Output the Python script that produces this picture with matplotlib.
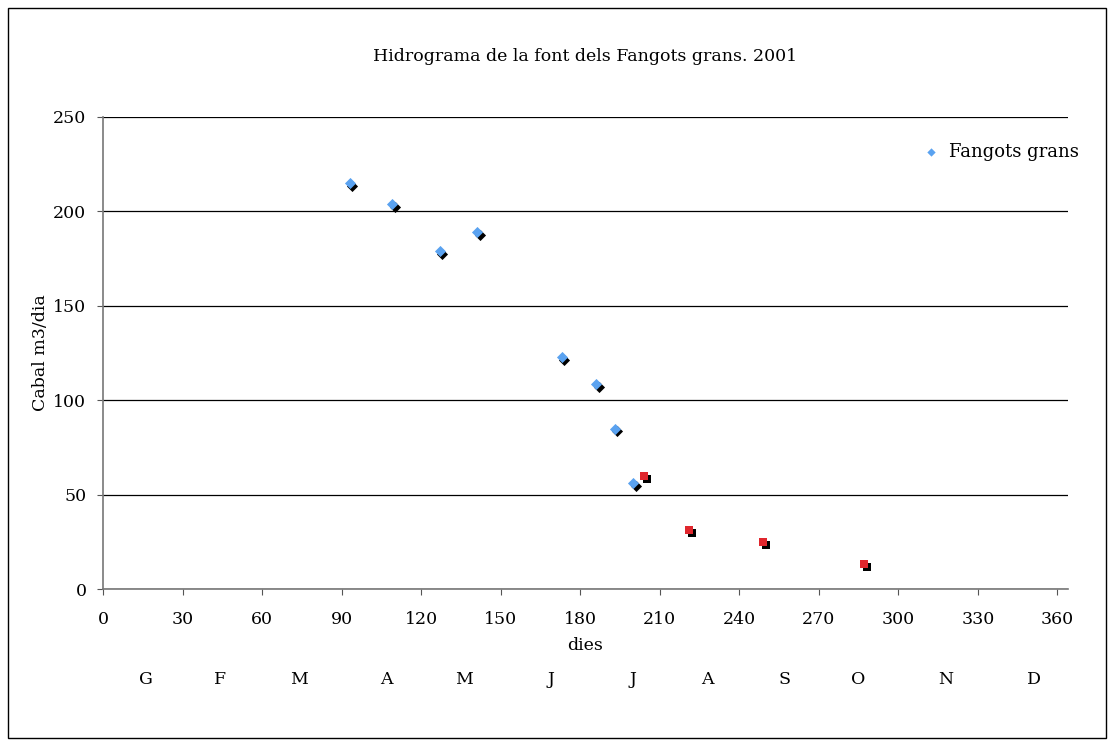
import matplotlib
matplotlib.use("Agg")
import matplotlib.pyplot as plt
import matplotlib.transforms as mtransforms
from matplotlib.patches import Rectangle

# dies de l'any i cabal (m3/dia)
dies_blau = [93, 109, 127, 141, 173, 186, 193, 200]
cabal_blau = [215, 204, 179, 189, 123, 108.5, 85, 56]
dies_vermell = [204, 221, 249, 287]
cabal_vermell = [60, 31, 25, 13]
mesos = ["G", "F", "M", "A", "M", "J", "J", "A", "S", "O", "N", "D"]
mig_mes = [16, 44, 74, 107, 136, 169, 200, 228, 257, 285, 318, 351]
xticks = list(range(0, 361, 30))
yticks = list(range(0, 251, 50))

plt.rcParams["font.family"] = "DejaVu Serif"

fig = plt.figure(figsize=(11.14, 7.47), dpi=100)
ax = fig.add_axes([0.0925, 0.2115, 0.8662, 0.6319])

# ombra negra dels marcadors
shadow = mtransforms.offset_copy(ax.transData, fig=fig, x=2.0, y=-2.0, units="points")
ax.scatter(dies_blau, cabal_blau, marker="D", s=32, color="black", transform=shadow, zorder=3, linewidths=0)
ax.scatter(dies_vermell, cabal_vermell, marker="s", s=34, color="black", transform=shadow, zorder=3, linewidths=0)

ax.scatter(dies_blau, cabal_blau, marker="D", s=32, color="#5aa2f0", zorder=4, linewidths=0,
           label="Fangots grans")
ax.scatter(dies_vermell, cabal_vermell, marker="s", s=34, color="#e0262d", zorder=4, linewidths=0)

ax.set_xlim(0, 364)
ax.set_ylim(0, 250)
ax.set_xticks(xticks)
ax.set_yticks(yticks)
ax.tick_params(labelsize=12.5, length=4, color="#555555")
ax.tick_params(axis="x", pad=12)
ax.tick_params(axis="y", pad=8)
ax.yaxis.grid(True, color="black", linewidth=0.9)
ax.set_axisbelow(True)
for s in ["top", "right"]:
    ax.spines[s].set_visible(False)
for s in ["left", "bottom"]:
    ax.spines[s].set_color("#777777")
    ax.spines[s].set_linewidth(1.2)

ax.set_xlabel("dies", fontsize=12.5, labelpad=6)
ax.set_ylabel("Cabal m3/dia", fontsize=12.5, labelpad=3)
ax.set_title("Hidrograma de la font dels Fangots grans. 2001", fontsize=12.5, pad=40)

trans = mtransforms.blended_transform_factory(ax.transData, fig.transFigure)
for m, d in zip(mesos, mig_mes):
    ax.text(d, 1 - 680 / 747, m, transform=trans, ha="center", va="center", fontsize=12.5)

leg = ax.legend(loc="upper left", bbox_to_anchor=(0.822, 0.98), frameon=False, fontsize=13,
                handletextpad=0.0, markerscale=0.75)

fig.patches.append(Rectangle((8 / 1114, 1 - 738 / 747), 1098 / 1114, 730 / 747,
                             transform=fig.transFigure, fill=False, edgecolor="black", linewidth=1))

fig.savefig("out.png", dpi=100, facecolor="white")
